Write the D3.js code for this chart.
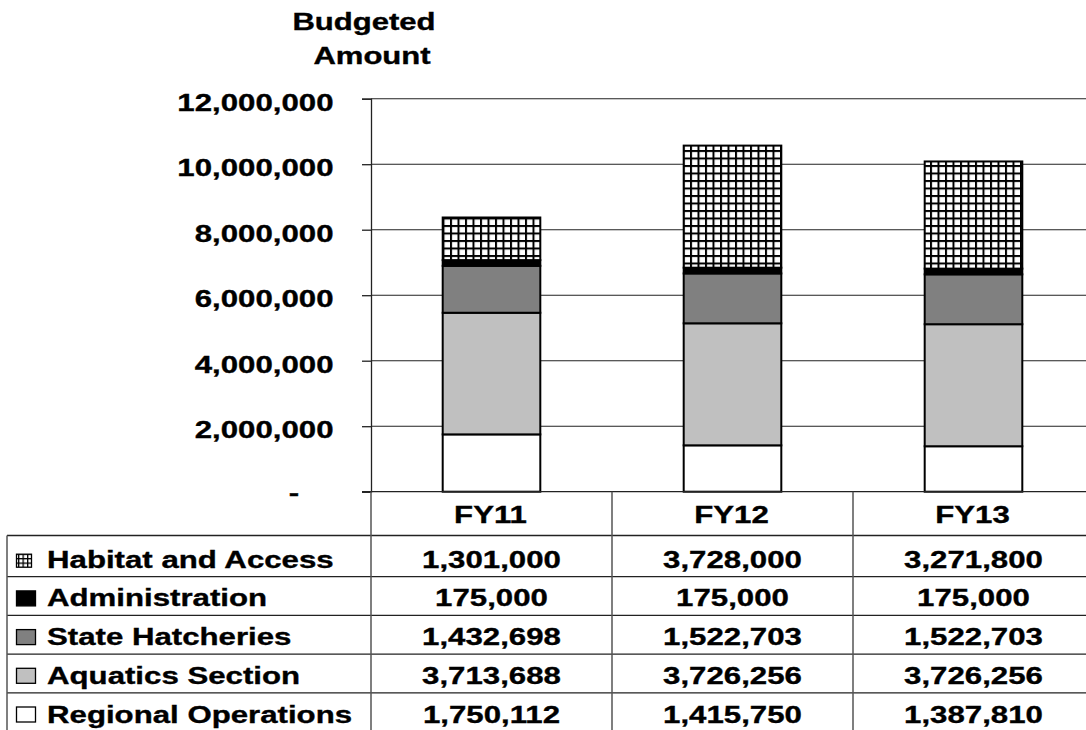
<!DOCTYPE html>
<html>
<head>
<meta charset="utf-8">
<script src="https://cdn.jsdelivr.net/npm/d3@7/dist/d3.min.js"></script>
<style>
  html, body { margin: 0; padding: 0; background: #fff; }
  svg { display: block; }
  text { font-family: "Liberation Sans", Arial, sans-serif; font-weight: bold; fill: #000; stroke: #000; stroke-width: 0.35px; }
</style>
</head>
<body>
<svg id="chart" width="1086" height="730"></svg>
<script>
// Fiscal years and budget lines
const years = ["FY11", "FY12", "FY13"];
const seriesNames = ["Regional Operations", "Aquatics Section", "State Hatcheries", "Administration", "Habitat and Access"];
const regionalOps = [1750112, 1415750, 1387810];
const aquatics = [3713688, 3726256, 3726256];
const hatcheries = [1432698, 1522703, 1522703];
const administration = [175000, 175000, 175000];
const habitat = [1301000, 3728000, 3271800];
const yTicks = [0, 2000000, 4000000, 6000000, 8000000, 10000000, 12000000];
const titleLines = ["Budgeted", "Amount"];

const seriesValues = [regionalOps, aquatics, hatcheries, administration, habitat];
const seriesFill = ["#ffffff", "#c0c0c0", "#808080", "#000000", "url(#grid)"];

const SX = 1.3;           // wide lettering
const svg = d3.select("#chart");
const fmt = d3.format(",");

// scaled text helper
function stext(parent, x, y, str, anchor, size, sx) {
  return parent.append("text")
    .attr("transform", `translate(${x},${y}) scale(${sx || SX},1)`)
    .attr("text-anchor", anchor)
    .style("font-size", size + "px")
    .text(str);
}

// crosshatch pattern for Habitat and Access
const defs = svg.append("defs");
const pat = defs.append("pattern").attr("id", "grid")
  .attr("patternUnits", "userSpaceOnUse").attr("width", 7.5).attr("height", 7.5);
pat.append("rect").attr("width", 7.5).attr("height", 7.5).attr("fill", "#fff");
pat.append("rect").attr("x", 0).attr("y", 0).attr("width", 2).attr("height", 7.5).attr("fill", "#000");
pat.append("rect").attr("x", 0).attr("y", 0).attr("width", 7.5).attr("height", 2).attr("fill", "#000");
const patSmall = defs.append("pattern").attr("id", "gridSmall")
  .attr("patternUnits", "userSpaceOnUse").attr("width", 4.5).attr("height", 4.5);
patSmall.append("rect").attr("width", 4.5).attr("height", 4.5).attr("fill", "#fff");
patSmall.append("rect").attr("width", 1.3).attr("height", 4.5).attr("fill", "#000");
patSmall.append("rect").attr("width", 4.5).attr("height", 1.3).attr("fill", "#000");

// scales
const x = d3.scaleBand().domain(years).range([371, 1094]).paddingInner(0).paddingOuter(0);
const y = d3.scaleLinear().domain([0, 12000000]).range([491.7, 98.7]);
const rowOrder = seriesNames.slice().reverse();
const rows = d3.scaleBand().domain(rowOrder).range([538, 731.5]);
const barW = x.bandwidth() * 0.405;

// gridlines
svg.append("g").selectAll("line").data(yTicks.filter(d => d > 0)).join("line")
  .attr("x1", 371).attr("x2", 1094)
  .attr("y1", d => y(d)).attr("y2", d => y(d))
  .attr("stroke", "#222").attr("stroke-width", 1.1);

// y axis
const yAxis = svg.append("g").attr("transform", "translate(371,0)")
  .call(d3.axisLeft(y).tickValues(yTicks).tickSize(9).tickFormat(""));
yAxis.select(".domain").attr("stroke", "#222").attr("stroke-width", 1.3);
yAxis.selectAll(".tick line").attr("stroke", "#222").attr("stroke-width", 1.3);

// y tick labels
yTicks.forEach(v => {
  if (v === 0) {
    stext(svg, 294, y(v) + 9.5, "-", "middle", 24);
  } else {
    stext(svg, 333.5, y(v) + 11.8, fmt(v), "end", 24);
  }
});

// title
stext(svg, 364, 29.5, titleLines[0], "middle", 23, 1.35);
stext(svg, 372, 63.5, titleLines[1], "middle", 23, 1.35);

// stacked bars
const stackData = years.map((yr, i) => {
  const o = { year: yr };
  seriesNames.forEach((s, k) => { o[s] = seriesValues[k][i]; });
  return o;
});
const stacked = d3.stack().keys(seriesNames)(stackData);
const barsG = svg.append("g");
stacked.forEach((layer, k) => {
  barsG.append("g").selectAll("rect").data(layer).join("rect")
    .attr("x", d => x(d.data.year) + (x.bandwidth() - barW) / 2)
    .attr("width", barW)
    .attr("y", d => y(d[1]))
    .attr("height", d => y(d[0]) - y(d[1]))
    .attr("fill", seriesFill[k])
    .attr("stroke", "#000").attr("stroke-width", 2);
});

// data table
const tbl = svg.append("g");
const lineCol = "#222";
// x axis / table top
tbl.append("line").attr("x1", 362).attr("x2", 1094).attr("y1", y(0)).attr("y2", y(0))
  .attr("stroke", lineCol).attr("stroke-width", 1.3);
// header bottom / first row top
tbl.append("line").attr("x1", 7).attr("x2", 1094).attr("y1", 535.5).attr("y2", 535.5)
  .attr("stroke", lineCol).attr("stroke-width", 1.3);
// row separators
tbl.selectAll("line.row").data(rowOrder.slice(1)).join("line").attr("class", "row")
  .attr("x1", 7).attr("x2", 1094)
  .attr("y1", d => rows(d)).attr("y2", d => rows(d))
  .attr("stroke", lineCol).attr("stroke-width", 1.3);
// column separators
tbl.selectAll("line.col").data(years.slice(1)).join("line").attr("class", "col")
  .attr("x1", d => x(d)).attr("x2", d => x(d))
  .attr("y1", y(0)).attr("y2", 731)
  .attr("stroke", "#555").attr("stroke-width", 1.5);
// axis continues down the table
tbl.append("line").attr("x1", 371).attr("x2", 371).attr("y1", y(0)).attr("y2", 731)
  .attr("stroke", "#555").attr("stroke-width", 1.5);
// left border
tbl.append("line").attr("x1", 7).attr("x2", 7).attr("y1", 535.5).attr("y2", 731)
  .attr("stroke", "#555").attr("stroke-width", 1.5);

// header labels
years.forEach(yr => {
  stext(tbl, x(yr) + x.bandwidth() / 2 - 1, 522.5, yr, "middle", 24);
});

// row labels, legend keys, values
rowOrder.forEach(name => {
  const k = seriesNames.indexOf(name);
  const top = rows(name), bottom = top + rows.bandwidth();
  const base = bottom - 9;
  const kw = k === 4 ? 15 : 19, kh = k === 4 ? 13 : 15;
  tbl.append("rect")
    .attr("x", 16.5).attr("y", base - kh - 0.5)
    .attr("width", kw).attr("height", kh)
    .attr("fill", k === 4 ? "url(#gridSmall)" : seriesFill[k])
    .attr("stroke", "#000").attr("stroke-width", 1.3);
  stext(tbl, 47, base, name, "start", 24);
  years.forEach((yr, i) => {
    stext(tbl, x(yr) + x.bandwidth() / 2, base, fmt(seriesValues[k][i]), "middle", 24);
  });
});
</script>
</body>
</html>
